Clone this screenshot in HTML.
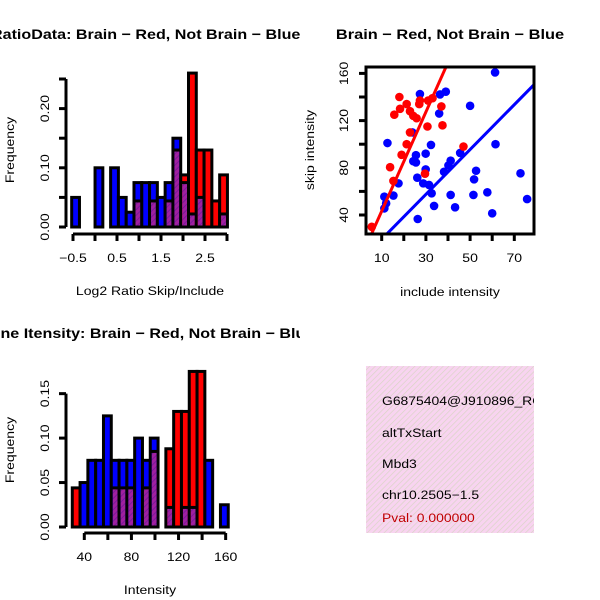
<!DOCTYPE html>
<html><head><meta charset="utf-8"><style>
html,body{margin:0;padding:0;background:#fff;}
svg{display:block;font-family:"Liberation Sans",sans-serif;}
</style></head><body>
<svg id="chart" width="600" height="600" xmlns="http://www.w3.org/2000/svg">
<defs>
<pattern id="hatch" patternUnits="userSpaceOnUse" width="4" height="4" patternTransform="rotate(45)">
<rect width="4" height="4" fill="#a020a0"/><line x1="0" y1="0" x2="0" y2="4" stroke="#7a1a9a" stroke-width="2"/>
</pattern>
<pattern id="pinkhatch" patternUnits="userSpaceOnUse" width="4" height="4" patternTransform="rotate(45)">
<rect width="4" height="4" fill="#f8d4f0"/><line x1="0" y1="0" x2="0" y2="4" stroke="#d8d4c4" stroke-width="1.3"/>
</pattern>
<clipPath id="clipL"><rect x="0" y="0" width="300" height="600"/></clipPath>
<clipPath id="clipSc"><rect x="366" y="67" width="168" height="167"/></clipPath>
<clipPath id="clipP"><rect x="366" y="366" width="168" height="167"/></clipPath>
</defs>
<g id="g1" clip-path="url(#clipL)"></g>
<g id="g2"></g>
<g id="g3" clip-path="url(#clipL)"></g>
<g clip-path="url(#clipP)">
<rect x="366" y="366" width="168" height="167" fill="url(#pinkhatch)"/>
<text transform="translate(382,405) scale(1.16,1)" font-size="12">G6875404@J910896_RC</text>
<text transform="translate(382,437) scale(1.16,1)" font-size="12">altTxStart</text>
<text transform="translate(382,468) scale(1.16,1)" font-size="12">Mbd3</text>
<text transform="translate(382,499) scale(1.16,1)" font-size="12">chr10.2505−1.5</text>
<text transform="translate(382,522) scale(1.16,1)" font-size="12" fill="#c00000">Pval: 0.000000</text>
</g>
</svg>
<script>
// ---- Ratio histogram data ----
const ratioBinStart = -0.53;
const ratioBinWidth = 0.177;
const ratioBlue = [0.05,0,0,0.10,0,0.10,0.05,0.025,0.075,0.075,0.075,0.05,0.075,0.15,0.075,0.022,0.05,0,0,0.022];
const ratioRed  = [0,0,0,0,0,0,0,0,0.044,0,0.044,0,0.044,0.13,0.088,0.26,0.13,0.13,0.044,0.088];
const ratioXTicks = [-0.5,0,0.5,1,1.5,2,2.5,3];
const ratioXLabels = ["-0.5","0.5","1.5","2.5"];
const ratioYTicks = [0,0.05,0.10,0.15,0.20,0.25];
const ratioYLabels = ["0.00","0.10","0.20"];
// ---- Intensity histogram data ----
const intBinStart = 29.8;
const intBinWidth = 6.62;
const intBlue = [0,0.05,0.075,0.075,0.125,0.075,0.075,0.075,0.10,0.075,0.10,0,0.022,0,0.022,0.022,0,0.075,0,0.025];
const intRed  = [0.044,0,0,0,0,0.044,0.044,0.044,0,0.044,0.085,0,0.088,0.13,0.13,0.175,0.175,0,0,0];
const intXTicks = [40,60,80,100,120,140,160];
const intXLabels = ["40","80","120","160"];
const intYTicks = [0,0.05,0.10,0.15];
const intYLabels = ["0.00","0.05","0.10","0.15"];
// ---- Scatter data ----
const redX = [5.5,13.8,15.3,15.7,18,18.3,19,21.3,21.3,22.8,22.8,24.3,25.8,27.3,27,29.6,30.7,31,37,37.5,47,33];
const redY = [30,80.5,68.9,125,140,130,91,100,134,110,128,124,122,137,134,75,115,137,132,116,98,139];
const blueX = [12.6,11.2,12,11.2,15.3,17.6,23.9,24.3,25.5,25.5,26.1,26.3,27.3,28.8,29.9,29.9,31.4,32.6,32.3,33.7,36,36.4,39,38.2,40.2,41.2,41.2,43.2,45.5,50,51.5,51.8,52.7,57.8,60,61.3,61.5,72.8,75.8];
const blueY = [101,55.5,49.9,45.6,56.5,66.8,110,85.6,90.7,84.5,71.6,36.6,142.5,66.8,78.6,92,65.5,58.4,99.4,47.7,126,142.2,144.5,76.6,82,86,57,46.5,92.6,132.5,57,70.2,77.5,59.2,41.4,160.8,100,75.3,53.5];
const redFit = [1.3, 4.2];
const blueFit = [0.5, 1.9];
const scXTicks = [10,20,30,40,50,60,70];
const scXLabels = ["10","30","50","70"];
const scYTicks = [40,60,80,100,120,140,160];
const scYLabels = ["40","80","120","160"];

const NS = "http://www.w3.org/2000/svg";
const SX = 1.17;
function mk(parent, tag, attrs, text){
  const e = document.createElementNS(NS, tag);
  for (const k in attrs) e.setAttribute(k, attrs[k]);
  if (text !== undefined) e.textContent = text;
  parent.appendChild(e); return e;
}
function txt(parent, x, y, s, opts){
  opts = opts || {};
  const rot = opts.rot ? ` rotate(${opts.rot})` : "";
  const sc = opts.sc || SX;
  return mk(parent, "text", {x:0, y:0, "font-size":opts.size||12, "font-weight":opts.bold?"bold":"normal",
    "text-anchor":opts.anchor||"middle", fill:opts.fill||"#000",
    transform:`translate(${x},${y})${rot} scale(${sc},1)`}, s);
}

function histogram(g, o){
  const sx = v => o.x0 + (v - o.v0) * o.kx;
  const sy = v => o.y0 - v * o.ky;
  for (let i = 0; i < o.blue.length; i++){
    const b = o.blue[i], r = o.red[i];
    const xl = sx(o.binStart + i*o.binWidth), xr = sx(o.binStart + (i+1)*o.binWidth);
    const hi = Math.max(b, r), lo = Math.min(b, r);
    if (hi > 0){
      const bar = mk(g, "rect", {x:xl, y:sy(hi), width:xr-xl, height:sy(0)-sy(hi), fill: b>=r ? "#0000ff" : "#ff0000", stroke:"#000", "stroke-width":3});
      
      
    }
    if (lo > 0){
      const ov = mk(g, "rect", {x:xl+1.5, y:sy(lo), width:xr-xl-3, height:sy(0)-sy(lo)-1.5, fill:"url(#hatch)"});
      
      
      mk(g, "line", {x1:xl, x2:xr, y1:sy(lo), y2:sy(lo), stroke:"#000", "stroke-width":3});
    }
  }
  const ya = mk(g, "g", {});
  
  
  const yt = o.yTicks;
  mk(ya, "line", {x1:o.yAxisX, x2:o.yAxisX, y1:sy(yt[0]), y2:sy(yt[yt.length-1]), stroke:"#000", "stroke-width":3});
  yt.forEach(t => mk(ya, "line", {x1:o.yAxisX-7, x2:o.yAxisX, y1:sy(t), y2:sy(t), stroke:"#000", "stroke-width":3}));
  o.yLabels.forEach(l => {
    const tx = txt(ya, o.yAxisX-17, sy(parseFloat(l)), l, {rot:-90});
    
    
  });
  const xa = mk(g, "g", {});
  
  
  const xt = o.xTicks;
  mk(xa, "line", {x1:sx(xt[0]), x2:sx(xt[xt.length-1]), y1:o.xAxisY, y2:o.xAxisY, stroke:"#000", "stroke-width":3});
  xt.forEach(t => mk(xa, "line", {x1:sx(t), x2:sx(t), y1:o.xAxisY, y2:o.xAxisY+7, stroke:"#000", "stroke-width":3}));
  o.xLabels.forEach(l => {
    const tx = txt(xa, sx(parseFloat(l)), o.xAxisY+28, l.replace("-", "−"));
    
    
  });
  const xl = txt(g, 150, o.xAxisY+61, o.xTitle);
  
  
  const yl = txt(g, 14, o.yTitleY, "Frequency", {rot:-90});
  
  
  const ti = txt(g, o.titleX, o.titleY, o.title, {size:14, bold:true, anchor:"start", sc:1.15});
  
  
}

histogram(document.getElementById("g1"), {
  blue:ratioBlue, red:ratioRed, binStart:ratioBinStart, binWidth:ratioBinWidth,
  x0:73, v0:-0.5, kx:44, y0:227, ky:592,
  yTicks:ratioYTicks, yLabels:ratioYLabels, xTicks:ratioXTicks, xLabels:ratioXLabels,
  yAxisX:66, xAxisY:234, xTitle:"Log2 Ratio Skip/Include", yTitleY:150,
  title:"RatioData: Brain − Red, Not Brain − Blue", titleX:-9, titleY:39
});
histogram(document.getElementById("g3"), {
  blue:intBlue, red:intRed, binStart:intBinStart, binWidth:intBinWidth,
  x0:84.3, v0:40, kx:1.178, y0:527, ky:889,
  yTicks:intYTicks, yLabels:intYLabels, xTicks:intXTicks, xLabels:intXLabels,
  yAxisX:66, xAxisY:533, xTitle:"Intensity", yTitleY:450,
  title:"Gene Itensity: Brain − Red, Not Brain − Blue", titleX:-21, titleY:338
});

(function(){
  const g = document.getElementById("g2");
  const sx = v => 381.7 + (v - 10) * 2.21;
  const sy = v => 215 - (v - 40) * 1.18;
  const pts = mk(g, "g", {"clip-path":"url(#clipSc)"});
  blueX.forEach((x, i) => {
    const c = mk(pts, "circle", {cx:sx(x), cy:sy(blueY[i]), r:4.3, fill:"#0000ff"});
    
    
  });
  redX.forEach((x, i) => {
    const c = mk(pts, "circle", {cx:sx(x), cy:sy(redY[i]), r:4.3, fill:"#ff0000"});
    
    
  });
  const fit = (f, col, name) => {
    const xa = 0, xb = 90;
    const l = mk(pts, "line", {x1:sx(xa), y1:sy(f[0]+f[1]*xa), x2:sx(xb), y2:sy(f[0]+f[1]*xb), stroke:col, "stroke-width":3});
    
    
  };
  fit(redFit, "#ff0000", "brain-fit-line");
  fit(blueFit, "#0000ff", "not-brain-fit-line");
  const box = mk(g, "rect", {x:366, y:67, width:168, height:167, fill:"none", stroke:"#000", "stroke-width":3});
  
  
  scXTicks.forEach(t => mk(g, "line", {x1:sx(t), x2:sx(t), y1:234, y2:241, stroke:"#000", "stroke-width":3}));
  scXLabels.forEach(l => {
    const tx = txt(g, sx(+l), 262, l);
    
    
  });
  scYTicks.forEach(t => mk(g, "line", {x1:359, x2:366, y1:sy(t), y2:sy(t), stroke:"#000", "stroke-width":3}));
  scYLabels.forEach(l => {
    const tx = txt(g, 348, sy(+l), l, {rot:-90});
    
    
  });
  const xt = txt(g, 450, 296, "include intensity");
  
  
  const yt = txt(g, 314, 150, "skip intensity", {rot:-90});
  
  
  const ti = txt(g, 450, 39, "Brain − Red, Not Brain − Blue", {size:14, bold:true});
  
  
})();
</script>
</body></html>
